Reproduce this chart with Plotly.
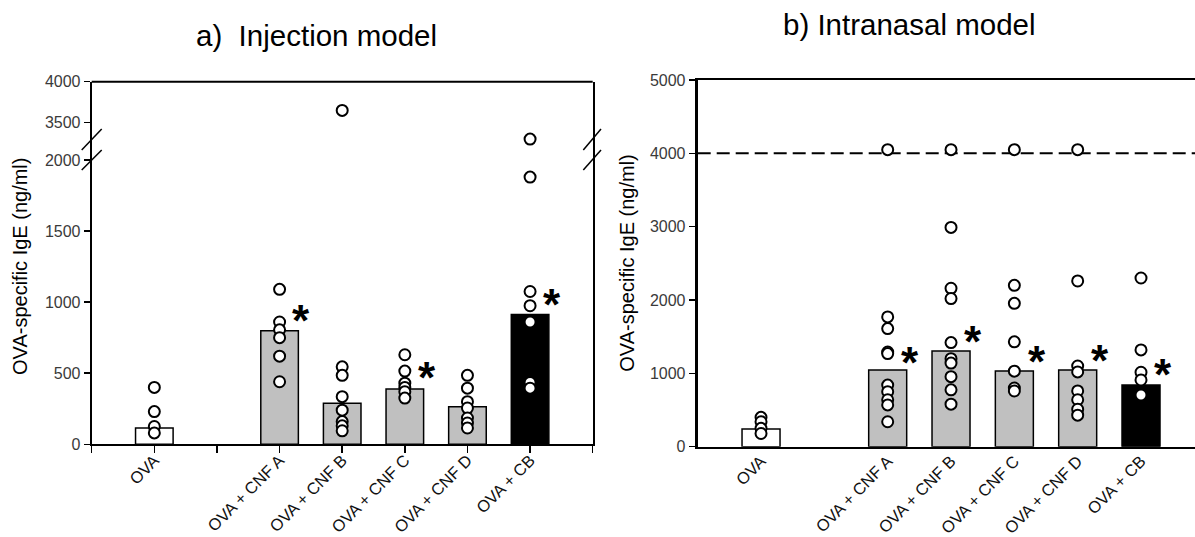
import plotly.graph_objects as go

W, H = 1195, 537

# ---------------- data ----------------
categories = ["OVA", "OVA + CNF A", "OVA + CNF B", "OVA + CNF C", "OVA + CNF D", "OVA + CB"]
cat_pos = [1, 3, 4, 5, 6, 7]
bar_colors = ["white", "#c0c0c0", "#c0c0c0", "#c0c0c0", "#c0c0c0", "black"]

inj_means = [115, 798, 289, 389, 265, 913]
inj_points = [
    [400, 230, 125, 80],
    [1090, 860, 805, 750, 620, 440],
    [3650, 545, 485, 335, 240, 160, 130, 95],
    [630, 515, 430, 400, 370, 325],
    [485, 395, 300, 255, 185, 150, 115],
    [3300, 1880, 1075, 975, 860, 435, 395],
]
inj_star_idx = [1, 3, 5]
inj_star_y = [923, 517, 1036]

nas_means = [241, 1046, 1305, 1032, 1046, 841]
nas_points = [
    [400, 340, 250, 180],
    [4050, 1770, 1610, 1290, 1270, 840, 750, 640, 570, 340],
    [4050, 2990, 2160, 2020, 1420, 1200, 1140, 955, 775, 580],
    [4050, 2200, 1955, 1430, 1030, 800, 760],
    [4050, 2260, 1100, 1020, 760, 640, 510, 430],
    [2300, 1320, 1015, 910, 705],
]
nas_star_idx = [1, 2, 3, 4, 5]
nas_star_y = [1241, 1533, 1260, 1274, 1083]

detection_limit = 4000
break_low, break_high = 2000, 3045

lower_ticks = [0, 500, 1000, 1500, 2000]
upper_ticks = [3500, 4000]
nas_ticks = [0, 1000, 2000, 3000, 4000, 5000]
x_tickvals = [0, 1, 2, 3, 4, 5, 6, 7, 8]


def px(x):
    return x / W


def py(y):
    return 1 - y / H


FONT = "Liberation Sans, Arial, sans-serif"

fig = go.Figure()

marker = dict(symbol="circle", size=11, color="white", line=dict(color="black", width=2))

# ---------- panel a ----------
fig.add_trace(go.Bar(x=cat_pos, y=inj_means, width=0.6, marker=dict(color=bar_colors, line=dict(color="black", width=1.5)),
                     xaxis="x", yaxis="y", showlegend=False))
for pos, vals in zip(cat_pos, inj_points):
    low = [v for v in vals if v <= break_low]
    high = [v for v in vals if v > break_low]
    fig.add_trace(go.Scatter(x=[pos] * len(low), y=low, mode="markers", marker=marker,
                             xaxis="x", yaxis="y", showlegend=False, cliponaxis=False))
    if high:
        fig.add_trace(go.Scatter(x=[pos] * len(high), y=high, mode="markers", marker=marker,
                                 xaxis="x", yaxis="y2", showlegend=False, cliponaxis=False))

# ---------- panel b ----------
fig.add_trace(go.Bar(x=cat_pos, y=nas_means, width=0.6, marker=dict(color=bar_colors, line=dict(color="black", width=1.5)),
                     xaxis="x2", yaxis="y3", showlegend=False))
for pos, vals in zip(cat_pos, nas_points):
    fig.add_trace(go.Scatter(x=[pos] * len(vals), y=vals, mode="markers", marker=marker,
                             xaxis="x2", yaxis="y3", showlegend=False, cliponaxis=False))

tickfont = dict(family=FONT, size=16, color="#3a3a3a")
xtickfont = dict(family=FONT, size=16.5, color="#111111")

xa_dom = [px(91.7), px(592.7)]
xb_dom = [px(697.7), 1.0]

fig.update_layout(
    width=W, height=H,
    margin=dict(l=0, r=0, t=0, b=0),
    plot_bgcolor="white", paper_bgcolor="white",
    bargap=0,
    xaxis=dict(domain=xa_dom, range=[0, 8], anchor="y", tickmode="array", tickvals=x_tickvals,
               ticktext=["", categories[0], "", categories[1], categories[2], categories[3], categories[4], categories[5], ""],
               tickangle=-45, ticks="outside", ticklen=7, tickwidth=1.5, tickcolor="black", ticklabelstandoff=-9,
               showline=True, linecolor="black", linewidth=2, showgrid=False, zeroline=False,
               tickfont=xtickfont, automargin=False),
    yaxis=dict(domain=[py(444.3), py(160)], range=[0, break_low], anchor="x", tickmode="array", tickvals=lower_ticks,
               ticks="outside", ticklen=6, tickwidth=1.5, tickcolor="black", showline=True, mirror=True,
               linecolor="black", linewidth=2, showgrid=False, zeroline=False, tickfont=tickfont, automargin=False),
    yaxis2=dict(domain=[py(160), py(81.7)], range=[break_high, 4000], anchor="x", tickmode="array", tickvals=upper_ticks,
                ticks="outside", ticklen=6, tickwidth=1.5, tickcolor="black", showline=True, mirror=True,
                linecolor="black", linewidth=2, showgrid=False, zeroline=False, tickfont=tickfont, automargin=False),
    xaxis2=dict(domain=xb_dom, range=[0, (1195 - 697.7) / 63.33], anchor="y3", tickmode="array", tickvals=cat_pos,
                ticktext=categories, tickangle=-45, ticks="", showline=True, mirror=True, linecolor="black",
                ticklabelstandoff=-4,
                linewidth=2.5, showgrid=False, zeroline=False, tickfont=xtickfont, automargin=False),
    yaxis3=dict(domain=[py(446.7), py(80)], range=[0, 5000], anchor="x2", tickmode="array", tickvals=nas_ticks,
                ticks="outside", ticklen=6, tickwidth=1.5, tickcolor="black", showline=True, linecolor="black",
                linewidth=3, showgrid=False, zeroline=False, tickfont=tickfont, automargin=False),
)

shapes = []
# top border of panel a
shapes.append(dict(type="line", xref="x domain", yref="y2 domain", x0=0, x1=1, y0=1, y1=1,
                   line=dict(color="black", width=2)))
# axis break marks (left and right of panel a)
for xl, xr in [(81.7, 101.7), (583.3, 601.0)]:
    shapes.append(dict(type="line", xref="paper", yref="paper", x0=px(xl), y0=py(150), x1=px(xr), y1=py(129),
                       line=dict(color="black", width=1.5)))
    shapes.append(dict(type="line", xref="paper", yref="paper", x0=px(xl), y0=py(170), x1=px(xr), y1=py(150),
                       line=dict(color="black", width=1.5)))
# detection-limit dashed line on panel b
shapes.append(dict(type="line", xref="x2 domain", yref="y3", x0=0, x1=1, y0=detection_limit, y1=detection_limit,
                   line=dict(color="black", width=2, dash="13px,6px"), layer="below"))
fig.update_layout(shapes=shapes)

STAR = dict(family=FONT, size=44, color="black")
ann = []
for i, yv in zip(inj_star_idx, inj_star_y):
    ann.append(dict(x=cat_pos[i] + 0.35, y=yv, xref="x", yref="y", text="<b>*</b>", showarrow=False,
                    font=STAR, yanchor="middle", yshift=-7))
for i, yv in zip(nas_star_idx, nas_star_y):
    ann.append(dict(x=cat_pos[i] + 0.35, y=yv, xref="x2", yref="y3", text="<b>*</b>", showarrow=False,
                    font=STAR, yanchor="middle", yshift=-7))
ann.append(dict(x=px(316.5), y=py(35.5), xref="paper", yref="paper", text="a)&nbsp; Injection model", showarrow=False,
                font=dict(family=FONT, size=29.5, color="black"), xanchor="center", yanchor="middle"))
ann.append(dict(x=px(909), y=py(24.5), xref="paper", yref="paper", text="b) Intranasal model", showarrow=False,
                font=dict(family=FONT, size=29.5, color="black"), xanchor="center", yanchor="middle"))
for xc, yc in [(20, 267), (626.7, 263)]:
    ann.append(dict(x=px(xc), y=py(yc), xref="paper", yref="paper", text="OVA-specific IgE (ng/ml)", showarrow=False,
                    textangle=-90, font=dict(family=FONT, size=20, color="black"), xanchor="center", yanchor="middle"))
fig.update_layout(annotations=ann)

fig.write_html("out.html", config={"displayModeBar": False, "staticPlot": True},
               post_script="document.body.style.margin='0';document.body.style.overflow='hidden';")
